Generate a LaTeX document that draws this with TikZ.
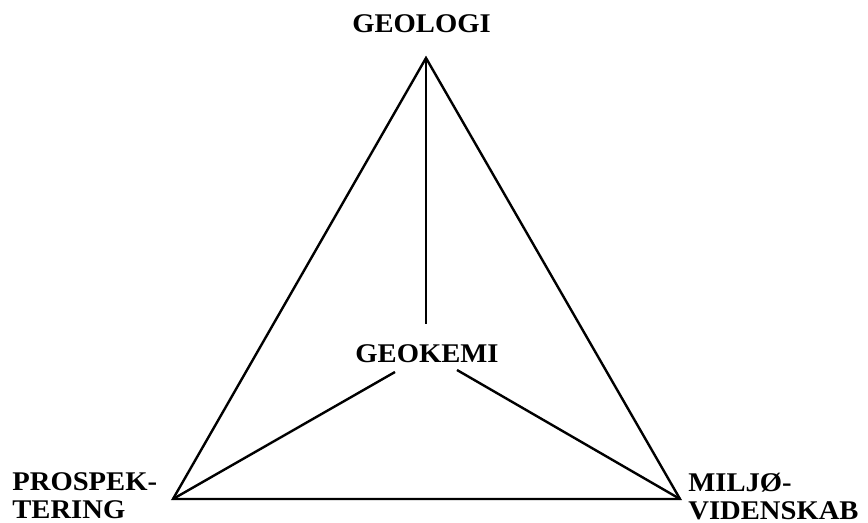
\documentclass[tikz,border=0pt]{standalone}
\usepackage{fontspec}
\setmainfont{Liberation Serif}[FakeStretch=1.06]
\begin{document}
\begin{tikzpicture}[x=0.5pt,y=-0.5pt,
  lbl/.style={font=\fontsize{13.5}{14}\selectfont\bfseries, inner sep=0pt, align=left},
  edge/.style={line width=1.2pt, line join=miter}]
\useasboundingbox (0,0) rectangle (868,523);
\coordinate (apex) at (426,58);
\coordinate (bl) at (173,499);
\coordinate (br) at (680,499);
\node[lbl, anchor=base] (geologi) at (421.5,33) {GEOLOGI};
\node[lbl, anchor=base] (geokemi) at (427,363) {GEOKEMI};
\node[lbl, anchor=north west] (prosp) at (12,472) {PROSPEK-\\TERING};
\node[lbl, anchor=north west] (milj) at (688,473) {MILJØ-\\VIDENSKAB};
\coordinate (gtop) at (426,324);
\coordinate (gleft) at (395,372);
\coordinate (gright) at (457,370);
\draw[edge] (apex) -- (bl) -- (br) -- cycle;
\draw[edge] (apex) -- (gtop);
\draw[edge] (gleft) -- (bl);
\draw[edge] (gright) -- (br);
\end{tikzpicture}
\end{document}
